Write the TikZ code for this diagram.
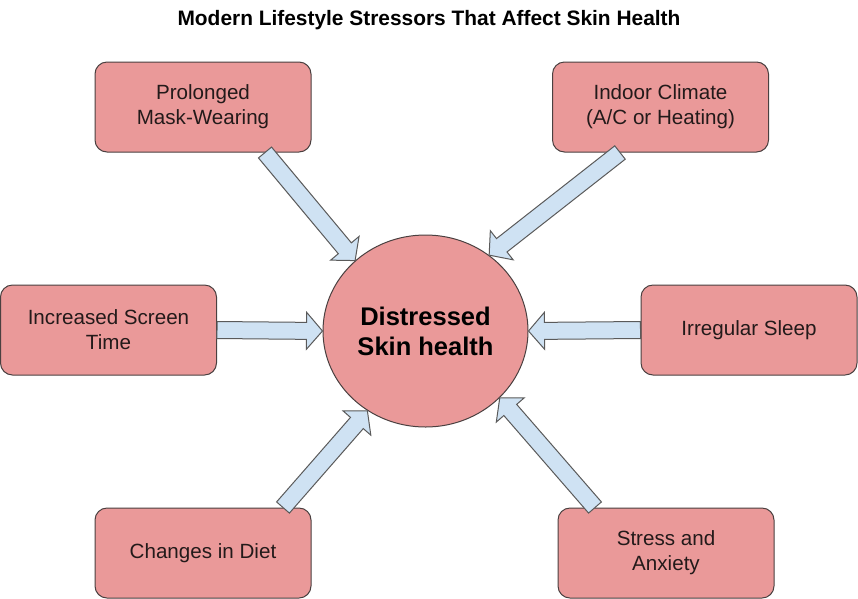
\documentclass[tikz,border=0pt]{standalone}
\usepackage{fontspec}
\setmainfont{Liberation Sans}
\usepackage{xcolor}
\usepackage{tikz}
\usetikzlibrary{calc}
\usetikzlibrary{shapes.geometric}
\definecolor{boxred}{HTML}{EA9999}
\definecolor{boxline}{HTML}{4A4040}
\definecolor{arrowblue}{HTML}{CFE2F3}
\definecolor{arrowline}{HTML}{5A5A5A}
\definecolor{ink}{HTML}{231A1A}
\tikzstyle{stressor}=[draw=boxline,fill=boxred,line width=1pt,rounded corners=12pt,
  minimum width=216pt,minimum height=90pt,align=center,text=ink,
  font=\fontsize{20.6}{25}\selectfont]
\tikzstyle{core}=[ellipse,draw=boxline,fill=boxred,line width=1pt,
  minimum width=205pt,minimum height=192pt,align=center,text=black,
  font=\fontsize{25.5}{30}\selectfont\bfseries]
\tikzstyle{fat}=[draw=arrowline,fill=arrowblue,line width=1pt,line join=miter]
\newcommand\fatarrow[2]{%
  \path[fat] let \p1=($(#2)-(#1)$), \n1={atan2(\y1,\x1)}, \n2={veclen(\x1,\y1)}, \n3={\n2-16pt} in
    [shift={(#1)},rotate=\n1] (0pt,-8.5pt) -- (\n3,-8.5pt) -- (\n3,-18.5pt) -- (\n2,0pt)
    -- (\n3,18.5pt) -- (\n3,8.5pt) -- (0pt,8.5pt) -- cycle;}
\begin{document}
\begin{tikzpicture}[x=1pt,y=-1pt]
				\fill[white] (0,0) rectangle (858,598);
				\useasboundingbox (0,0) rectangle (858,598);
				\node[font=\fontsize{20.9}{24}\selectfont\bfseries] (title) at (429,20) {Modern Lifestyle Stressors That Affect Skin Health};
				\node[core] (skin) at (425.5,331) {Distressed\\Skin health};
				\node[stressor] (mask)    at (203,107)   {Prolonged\\Mask-Wearing};
				\node[stressor] (climate) at (660.5,107) {Indoor Climate\\(A/C or Heating)};
				\node[stressor] (screen)  at (108.5,330) {Increased Screen\\Time};
				\node[stressor] (sleep)   at (749,330)   {Irregular Sleep};
				\node[stressor] (diet)    at (203,553)   {Changes in Diet};
				\node[stressor] (stress)  at (666,553)   {Stress and\\Anxiety};
				\coordinate (mask-out)    at ($(mask.south)+(62,0)$);
				\coordinate (climate-out) at ($(climate.south)+(-40.5,0)$);
				\coordinate (diet-out)    at ($(diet.north)+(80,0)$);
				\coordinate (stress-out)  at ($(stress.north)+(-71,0)$);
				\fatarrow{mask-out}{skin.135}
				\fatarrow{climate-out}{skin.50}
				\fatarrow{screen.east}{skin.west}
				\fatarrow{sleep.west}{skin.east}
				\fatarrow{diet-out}{skin.234}
				\fatarrow{stress-out}{skin.318}
				\end{tikzpicture}
\end{document}
